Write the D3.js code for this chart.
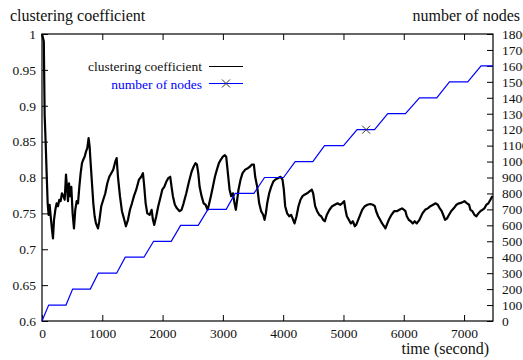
<!DOCTYPE html>
<html>
<head>
<meta charset="utf-8">
<script src="https://cdn.jsdelivr.net/npm/d3@7"></script>
<style>
  body { margin: 0; background: #fff; }
  text { font-family: "Liberation Serif", "DejaVu Serif", serif; fill: #111; }
  .axis text { font-size: 13.5px; font-family: "Liberation Serif", "DejaVu Serif", serif; }
  .axis line, .axis path { stroke: #000; }
</style>
</head>
<body>
<div id="chart"></div>
<script>
// time (s) / clustering coefficient
var ccTime = [0, 30, 44, 61, 77, 94, 110, 127, 144, 166, 182, 199, 221, 243, 265, 287, 309, 331, 354, 376, 398, 414, 431, 448, 464, 486, 508, 530, 552, 575, 597, 619, 641, 663, 685, 707, 729, 751, 773, 790, 807, 829, 851, 873, 895, 928, 950, 983, 1016, 1050, 1083, 1116, 1149, 1182, 1215, 1238, 1260, 1293, 1326, 1359, 1392, 1426, 1459, 1492, 1525, 1563, 1608, 1646, 1674, 1691, 1719, 1746, 1785, 1818, 1840, 1862, 1895, 1928, 1961, 1995, 2028, 2061, 2094, 2127, 2149, 2171, 2204, 2238, 2282, 2315, 2348, 2393, 2437, 2481, 2514, 2547, 2570, 2592, 2614, 2647, 2680, 2713, 2746, 2768, 2801, 2834, 2868, 2901, 2934, 2967, 3000, 3033, 3055, 3077, 3111, 3138, 3166, 3193, 3215, 3237, 3259, 3293, 3326, 3370, 3414, 3447, 3481, 3514, 3536, 3569, 3602, 3635, 3668, 3691, 3713, 3735, 3768, 3801, 3834, 3867, 3912, 3956, 3989, 4011, 4033, 4066, 4099, 4132, 4166, 4188, 4221, 4254, 4287, 4321, 4354, 4398, 4442, 4475, 4497, 4530, 4564, 4597, 4630, 4663, 4691, 4724, 4768, 4813, 4857, 4901, 4945, 4978, 5011, 5034, 5056, 5089, 5122, 5155, 5189, 5211, 5244, 5277, 5310, 5354, 5398, 5443, 5487, 5520, 5542, 5575, 5608, 5641, 5674, 5696, 5718, 5752, 5796, 5840, 5884, 5928, 5972, 6005, 6028, 6050, 6083, 6116, 6149, 6182, 6215, 6260, 6310, 6354, 6398, 6442, 6486, 6530, 6564, 6597, 6630, 6663, 6685, 6718, 6751, 6785, 6829, 6873, 6917, 6962, 7006, 7050, 7083, 7105, 7138, 7172, 7205, 7238, 7271, 7304, 7337, 7370, 7404, 7437, 7470];
var ccValue = [1.0, 0.99, 0.887, 0.848, 0.806, 0.764, 0.748, 0.762, 0.746, 0.727, 0.715, 0.741, 0.755, 0.764, 0.760, 0.769, 0.767, 0.778, 0.774, 0.769, 0.804, 0.787, 0.767, 0.792, 0.774, 0.787, 0.750, 0.729, 0.755, 0.767, 0.764, 0.787, 0.806, 0.820, 0.825, 0.829, 0.836, 0.841, 0.855, 0.843, 0.820, 0.792, 0.764, 0.746, 0.736, 0.729, 0.739, 0.760, 0.769, 0.778, 0.792, 0.801, 0.806, 0.811, 0.822, 0.827, 0.801, 0.774, 0.753, 0.743, 0.732, 0.741, 0.755, 0.764, 0.774, 0.783, 0.797, 0.801, 0.806, 0.792, 0.764, 0.750, 0.748, 0.755, 0.741, 0.734, 0.746, 0.760, 0.771, 0.783, 0.787, 0.794, 0.799, 0.801, 0.787, 0.774, 0.762, 0.757, 0.753, 0.755, 0.764, 0.778, 0.794, 0.808, 0.815, 0.820, 0.818, 0.806, 0.787, 0.774, 0.764, 0.762, 0.755, 0.762, 0.774, 0.787, 0.801, 0.811, 0.820, 0.825, 0.829, 0.831, 0.829, 0.811, 0.783, 0.774, 0.778, 0.764, 0.755, 0.769, 0.783, 0.797, 0.806, 0.811, 0.813, 0.815, 0.818, 0.818, 0.801, 0.787, 0.764, 0.753, 0.748, 0.741, 0.750, 0.764, 0.778, 0.787, 0.794, 0.797, 0.799, 0.801, 0.797, 0.783, 0.760, 0.750, 0.746, 0.748, 0.741, 0.736, 0.746, 0.760, 0.769, 0.774, 0.776, 0.778, 0.781, 0.783, 0.778, 0.760, 0.753, 0.748, 0.746, 0.741, 0.739, 0.748, 0.755, 0.760, 0.762, 0.764, 0.762, 0.764, 0.767, 0.755, 0.746, 0.741, 0.736, 0.739, 0.732, 0.734, 0.741, 0.748, 0.755, 0.760, 0.762, 0.763, 0.762, 0.760, 0.753, 0.746, 0.741, 0.736, 0.732, 0.729, 0.734, 0.741, 0.748, 0.753, 0.753, 0.755, 0.757, 0.755, 0.753, 0.746, 0.741, 0.739, 0.736, 0.739, 0.736, 0.741, 0.750, 0.755, 0.757, 0.760, 0.762, 0.764, 0.762, 0.757, 0.753, 0.746, 0.741, 0.743, 0.748, 0.753, 0.757, 0.762, 0.764, 0.765, 0.767, 0.764, 0.762, 0.755, 0.753, 0.748, 0.746, 0.750, 0.753, 0.755, 0.757, 0.762, 0.764, 0.769, 0.774];

// time (s) / number of nodes, corners of the staircase
var nodeTime = [0, 111, 398, 508, 801, 934, 1238, 1381, 1691, 1851, 2144, 2299, 2591, 2752, 3055, 3204, 3514, 3691, 4006, 4199, 4492, 4686, 5001, 5226, 5515, 5735, 6028, 6260, 6547, 6758, 7061, 7282, 7480];
var nodeCount = [0, 100, 100, 200, 200, 300, 300, 400, 400, 500, 500, 600, 600, 700, 700, 800, 800, 900, 900, 1000, 1000, 1100, 1100, 1200, 1200, 1300, 1300, 1400, 1400, 1500, 1500, 1600, 1600];

// the single point marker drawn on the nodes line
var markTime = [5376];
var markCount = [1200];

// tick labels
var timeTicks = [0, 1000, 2000, 3000, 4000, 5000, 6000, 7000];
var ccTicks = ["0.6", "0.65", "0.7", "0.75", "0.8", "0.85", "0.9", "0.95", "1"];
var nodeTicks = [0, 100, 200, 300, 400, 500, 600, 700, 800, 900, 1000, 1100, 1200, 1300, 1400, 1500, 1600, 1700, 1800];

var svg = d3.select("#chart").append("svg")
    .attr("width", 523)
    .attr("height", 360),
    margin = {top: 34, right: 30, bottom: 39, left: 42},
    width = 523 - margin.left - margin.right,
    height = 360 - margin.top - margin.bottom,
    g = svg.append("g").attr("transform", "translate(" + margin.left + "," + margin.top + ")");

var x = d3.scaleLinear().domain([0, 7480]).range([0, width]);
var y = d3.scaleLinear().domain([0.6, 1]).range([height, 0]);
var y2 = d3.scaleLinear().domain([0, 1800]).range([height, 0]);

// axes, gnuplot style: ticks point inwards
g.append("g")
    .attr("class", "axis")
    .attr("transform", "translate(0," + height + ")")
    .call(d3.axisBottom(x).tickValues(timeTicks).tickFormat(d3.format("d"))
        .tickSizeInner(-6).tickSizeOuter(0).tickPadding(7));

g.append("g")
    .attr("class", "axis")
    .call(d3.axisTop(x).tickValues(timeTicks.slice(1)).tickSizeInner(-6).tickSizeOuter(0).tickFormat(""));

g.append("g")
    .attr("class", "axis")
    .call(d3.axisLeft(y).tickValues(ccTicks.map(Number)).tickFormat(function(d, i) { return ccTicks[i]; })
        .tickSizeInner(-6).tickSizeOuter(0).tickPadding(6));

g.append("g")
    .attr("class", "axis")
    .attr("transform", "translate(" + width + ",0)")
    .call(d3.axisRight(y2).tickValues(nodeTicks).tickFormat(d3.format("d"))
        .tickSizeInner(-6).tickSizeOuter(0).tickPadding(9));

g.selectAll(".axis .domain").remove();

g.append("rect")
    .attr("width", width)
    .attr("height", height)
    .attr("fill", "none")
    .attr("stroke", "#000")
    .attr("stroke-width", 1.2);

// clustering coefficient
var ccData = ccTime.map(function(t, i) { return [t, ccValue[i]]; });
g.append("path")
    .datum(ccData)
    .attr("fill", "none")
    .attr("stroke", "#000")
    .attr("stroke-width", 2.2)
    .attr("stroke-linejoin", "round")
    .attr("d", d3.line().x(function(d) { return x(d[0]); }).y(function(d) { return y(d[1]); }));

// number of nodes
var nodeData = nodeTime.map(function(t, i) { return [t, nodeCount[i]]; });
g.append("path")
    .datum(nodeData)
    .attr("fill", "none")
    .attr("stroke", "#0000ff")
    .attr("stroke-width", 1.2)
    .attr("d", d3.line().x(function(d) { return x(d[0]); }).y(function(d) { return y2(d[1]); }));

function cross(sel, cx, cy) {
  sel.append("path")
      .attr("d", "M" + (cx - 4) + "," + (cy - 4) + "L" + (cx + 4) + "," + (cy + 4) +
                 "M" + (cx - 4) + "," + (cy + 4) + "L" + (cx + 4) + "," + (cy - 4))
      .attr("stroke", "#333")
      .attr("stroke-width", 1);
}

markTime.forEach(function(t, i) { cross(g, x(t), y2(markCount[i])); });

// legend
var legend = svg.append("g").attr("font-size", "13.5px");
legend.append("text").attr("x", 202).attr("y", 71).attr("text-anchor", "end").text("clustering coefficient");
legend.append("line").attr("x1", 209).attr("x2", 243).attr("y1", 66.5).attr("y2", 66.5)
    .attr("stroke", "#000").attr("stroke-width", 1);
legend.append("text").attr("x", 202).attr("y", 89).attr("text-anchor", "end")
    .style("fill", "#0000ff").text("number of nodes");
legend.append("line").attr("x1", 209).attr("x2", 243).attr("y1", 83.5).attr("y2", 83.5)
    .attr("stroke", "#0000ff").attr("stroke-width", 1.2);
cross(legend, 226, 83.5);

// axis titles
svg.append("text").attr("x", 10).attr("y", 21).attr("font-size", "16px").text("clustering coefficient");
svg.append("text").attr("x", 520).attr("y", 21).attr("font-size", "16px").attr("text-anchor", "end").text("number of nodes");
svg.append("text").attr("x", 489).attr("y", 354).attr("font-size", "16px").attr("text-anchor", "end").text("time (second)");
</script>
</body>
</html>
